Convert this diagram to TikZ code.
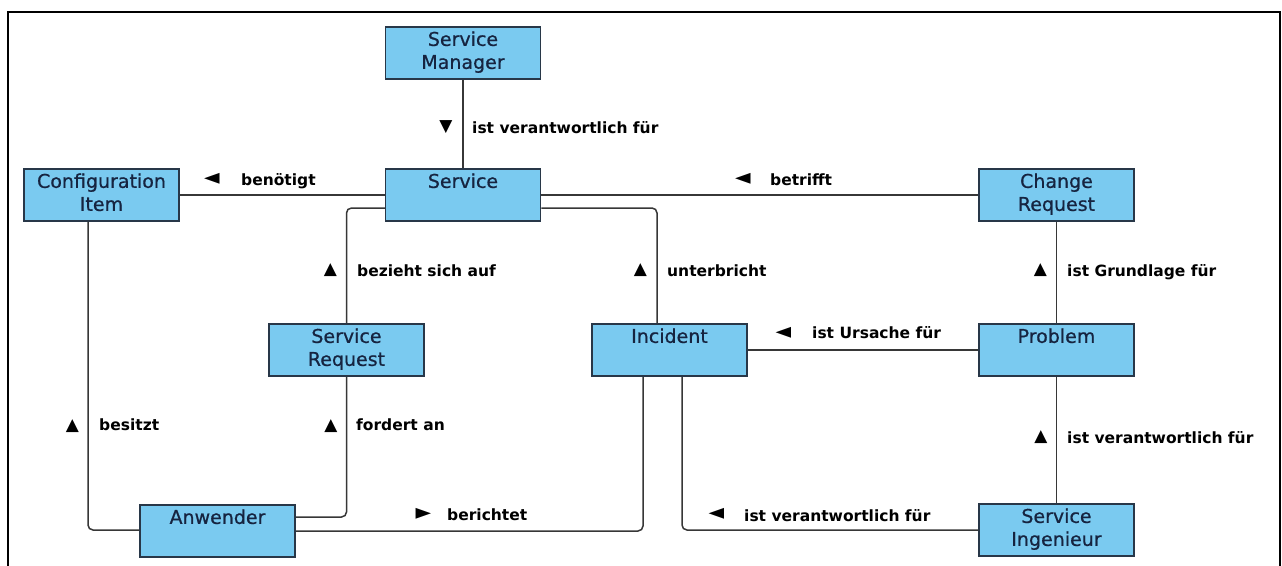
\documentclass[tikz,border=0pt]{standalone}
\usepackage{fontspec}
\setmainfont{DejaVu Sans}
\newfontfamily\boxfont[FakeBold=0.7]{DejaVu Sans}
\newfontfamily\boldlab{DejaVu Sans Bold}
\usetikzlibrary{calc}
\definecolor{boxfill}{RGB}{122,202,240}
\definecolor{boxline}{RGB}{40,55,72}
\definecolor{boxtext}{RGB}{22,36,64}
\definecolor{linecol}{RGB}{55,55,55}
\tikzset{
  entity/.style={draw=boxline, line width=1.5pt, fill=boxfill, minimum width=155pt, minimum height=52pt, inner sep=0pt},
  etext/.style={anchor=north, inner sep=0pt, yshift=-5pt, align=center, text=boxtext, font=\boxfont\fontsize{19}{23}\selectfont},
  conn/.style={draw=linecol, line width=1.5pt, rounded corners=5pt},
  elabel/.style={anchor=base west, inner sep=0pt, font=\boldlab\fontsize{15.5}{18}\selectfont, text=black},
  tri/.style={anchor=center, inner sep=0pt, font=\fontsize{17}{18}\selectfont, text=black},
  trih/.style={anchor=center, inner sep=0pt, font=\fontsize{15}{16}\selectfont, text=black, xscale=1.35, yscale=0.95}
}
\begin{document}
\begin{tikzpicture}[x=1pt,y=-1pt]
\useasboundingbox (0,0) rectangle (1282,565);
\fill[white] (0,0) rectangle (1282,565);
\draw[line width=1.5pt, black] (8,566) -- (8,12) -- (1280,12) -- (1280,566);

% entities
\node[entity, label={[etext]north:Service\\Manager}] (sm) at (463,53) {};
\node[entity, label={[etext]north:Service}] (svc) at (463,195) {};
\node[entity, label={[etext]north:Configuration\\Item}] (ci) at (101.5,195) {};
\node[entity, label={[etext]north:Change\\Request}] (cr) at (1056.5,195) {};
\node[entity, label={[etext]north:Service\\Request}] (sr) at (346.5,350) {};
\node[entity, label={[etext]north:Incident}] (inc) at (669.5,350) {};
\node[entity, label={[etext]north:Problem}] (prob) at (1056.5,350) {};
\node[entity, label={[etext]north:Anwender}] (anw) at (217.5,531) {};
\node[entity, label={[etext]north:Service\\Ingenieur}] (si) at (1056.5,530) {};

% connectors
\draw[conn] (sm.south) -- (svc.north);
\draw[conn] (ci.east) -- (svc.west);
\draw[conn] (svc.east) -- (cr.west);
\draw[conn] ([yshift=-13pt]svc.west) -| (sr.north);
\draw[conn] ([yshift=-13pt]svc.east) -| ([xshift=-12.5pt]inc.north);
\draw[conn] (cr.south) -- (prob.north);
\draw[conn] (inc.east) -- (prob.west);
\draw[conn] (prob.south) -- (si.north);
\draw[conn] (si.west) -| ([xshift=12.5pt]inc.south);
\draw[conn] (anw.east) -| ([xshift=-26.5pt]inc.south);
\draw[conn] (sr.south) |- ([yshift=14pt]anw.east);
\draw[conn] ([xshift=-13.5pt]ci.south) |- ([yshift=1pt]anw.west);

% direction markers
\node[tri] (t1) at (446,127) {▼};
\node[trih] (t2) at (212,179) {◀};
\node[trih] (t3) at (743,179) {◀};
\node[tri] (t4) at (330.5,270) {▲};
\node[tri] (t5) at (640.5,270) {▲};
\node[tri] (t6) at (1040.5,270) {▲};
\node[trih] (t7) at (783.5,333) {◀};
\node[tri] (t8) at (72.5,426) {▲};
\node[tri] (t9) at (331,426) {▲};
\node[tri] (t10) at (1041,437) {▲};
\node[trih] (t11) at (423.5,514) {▶};
\node[trih] (t12) at (716.5,514) {◀};

% labels
\node[elabel] (l1) at (472,133) {ist verantwortlich für};
\node[elabel] (l2) at (241,185) {benötigt};
\node[elabel] (l3) at (770,185) {betrifft};
\node[elabel] (l4) at (357,276) {bezieht sich auf};
\node[elabel] (l5) at (667,276) {unterbricht};
\node[elabel] (l6) at (1067,276) {ist Grundlage für};
\node[elabel] (l7) at (812,338) {ist Ursache für};
\node[elabel] (l8) at (99,430) {besitzt};
\node[elabel] (l9) at (356,430) {fordert an};
\node[elabel] (l10) at (1067,443) {ist verantwortlich für};
\node[elabel] (l11) at (447,520) {berichtet};
\node[elabel] (l12) at (744,521) {ist verantwortlich für};
\end{tikzpicture}
\end{document}
